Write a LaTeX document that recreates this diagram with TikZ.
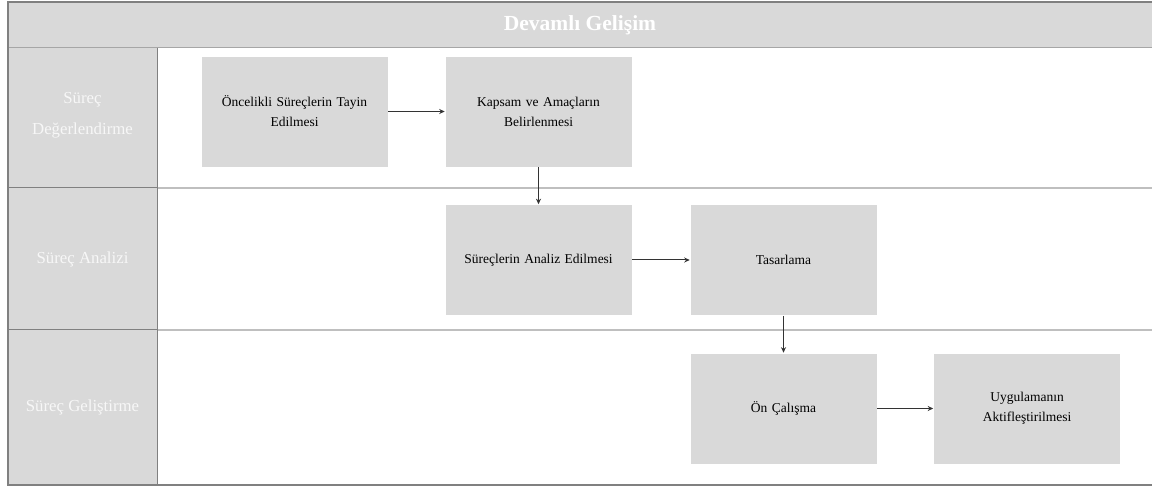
\documentclass[tikz,border=0pt]{standalone}
\usepackage{fontspec}
\setmainfont{Liberation Serif}
\usetikzlibrary{arrows.meta}
\definecolor{boxgray}{HTML}{D9D9D9}
\definecolor{framegray}{HTML}{808080}
\definecolor{lightline}{HTML}{BFBFBF}
\definecolor{lanetext}{HTML}{F7F7F7}
\definecolor{arrowcol}{HTML}{333333}
\tikzset{
  stepbox/.style={rectangle, fill=boxgray, draw=white, line width=0.6pt,
    minimum width=187pt, minimum height=111pt, inner sep=4pt,
    align=center, text width=175pt, font=\fontsize{13.5}{20}\selectfont, text=black},
  lanelabel/.style={align=center, text=lanetext, font=\fontsize{16.8}{31}\selectfont},
  titletext/.style={text=white, font=\fontsize{21.5}{24}\selectfont\bfseries},
  flow/.style={draw=arrowcol, line width=1pt, -{Stealth[length=5.5pt,width=5pt]}}
}
\begin{document}
\begin{tikzpicture}[x=1pt,y=-1pt]
\useasboundingbox (0,0) rectangle (1152,486);
% backgrounds
\fill[white] (0,0) rectangle (1152,486);
\fill[boxgray] (8,2) rectangle (1160,48);
\fill[boxgray] (8,48) rectangle (157,485);
% title bottom line
\draw[draw=framegray!70, line width=1.6pt] (8,47.5) -- (1160,47.5);
% lane dividers
\draw[lightline, line width=1.2pt] (157,188) -- (1160,188);
\draw[lightline, line width=1.2pt] (157,330) -- (1160,330);
\draw[framegray, line width=1pt] (8,188) -- (157,188);
\draw[framegray, line width=1pt] (8,330) -- (157,330);
% column line
\draw[framegray, line width=1pt] (157,48) -- (157,485);
% outer frame
\draw[framegray, line width=1.8pt] (1160,2) -- (8,2) -- (8,485) -- (1160,485);
% title
\node[titletext] (title) at (580,25) {Devamlı Gelişim};
% lane labels
\node[lanelabel] (l1) at (82.5,115) {Süreç\\Değerlendirme};
\node[lanelabel] (l2) at (82.5,259) {Süreç Analizi};
\node[lanelabel] (l3) at (82.5,407) {Süreç Geliştirme};
% boxes
\node[stepbox] (o1) at (294.5,111.5) {Öncelikli Süreçlerin Tayin\\Edilmesi};
\node[stepbox] (o2) at (538.5,111.5) {Kapsam ve Amaçların\\Belirlenmesi};
\node[stepbox] (a1) at (538.5,260) {Süreçlerin Analiz Edilmesi};
\node[stepbox] (a2) at (783.5,260) {Tasarlama};
\node[stepbox] (g1) at (783.5,408.5) {Ön Çalışma};
\node[stepbox] (g2) at (1027,408.5) {Uygulamanın\\Aktifleştirilmesi};
% connectors
\draw[flow] (o1.east) -- (o2.west);
\draw[flow] (o2.south) -- (a1.north);
\draw[flow] (a1.east) -- (a2.west);
\draw[flow] (a2.south) -- (g1.north);
\draw[flow] (g1.east) -- (g2.west);
\end{tikzpicture}
\end{document}
